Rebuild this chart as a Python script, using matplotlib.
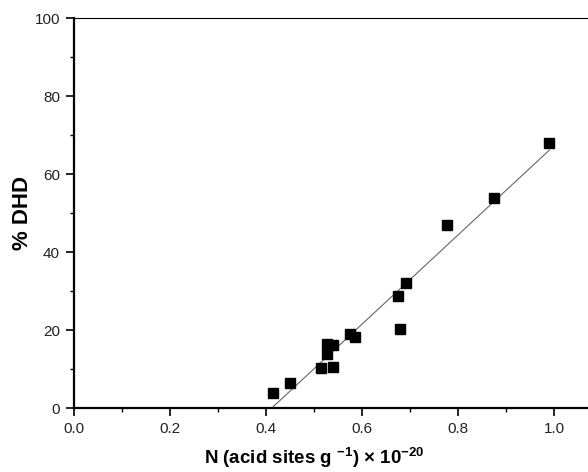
import numpy as np
import matplotlib
matplotlib.use("Agg")
import matplotlib.pyplot as plt
from matplotlib.ticker import MultipleLocator, FormatStrFormatter

# acid site density (x 1e20 per g) vs % DHD
acid_sites = [0.415, 0.451, 0.515, 0.540, 0.527, 0.528, 0.540, 0.575, 0.586,
              0.680, 0.676, 0.691, 0.778, 0.874, 0.990]
dhd = [3.9, 6.4, 10.2, 10.4, 13.9, 16.3, 16.2, 19.1, 18.3,
       20.2, 28.7, 32.1, 46.8, 53.8, 67.9]

plt.rcParams["font.family"] = ["Liberation Sans", "DejaVu Sans"]
plt.rcParams["mathtext.fontset"] = "custom"
plt.rcParams["mathtext.rm"] = "Liberation Sans"
plt.rcParams["mathtext.bf"] = "Liberation Sans:bold"

fig = plt.figure(figsize=(5.88, 4.72), dpi=100)
ax = fig.add_axes([74 / 588, 64 / 472, 528 / 588, 390 / 472])

# least-squares line over the data range
x = np.array(acid_sites)
y = np.array(dhd)
slope, intercept = np.polyfit(x, y, 1)
xs = np.array([x.min(), x.max()])
ax.plot(xs, slope * xs + intercept, color="#666666", linewidth=0.8, zorder=1)

ax.plot(acid_sites, dhd, linestyle="none", marker="s", markersize=6.5,
        color="black", zorder=2)

ax.set_xlim(0, 1.1)
ax.set_ylim(0, 100)
ax.xaxis.set_major_locator(MultipleLocator(0.2))
ax.xaxis.set_minor_locator(MultipleLocator(0.1))
ax.yaxis.set_major_locator(MultipleLocator(20))
ax.yaxis.set_minor_locator(MultipleLocator(10))
ax.xaxis.set_major_formatter(FormatStrFormatter("%.1f"))

ax.tick_params(which="major", direction="out", length=6, width=1.2,
               labelsize=11, colors="black", labelcolor="#222222", pad=4)
ax.tick_params(which="minor", direction="out", length=3, width=1.0)
ax.tick_params(top=False, right=False)

for side in ("left", "bottom"):
    ax.spines[side].set_linewidth(1.6)
ax.spines["top"].set_linewidth(0.8)
ax.spines["right"].set_visible(False)

ax.set_xlabel(r"N (acid sites g $^{\mathbf{-1}}$) × 10$^{\mathbf{-20}}$",
              fontsize=13.5, fontweight="bold")
ax.set_ylabel("% DHD", fontsize=16, fontweight="bold")
ax.xaxis.set_label_coords(0.455, -0.095)
ax.yaxis.set_label_coords(-0.077, 0.5)

fig.savefig("out.png", dpi=100)
